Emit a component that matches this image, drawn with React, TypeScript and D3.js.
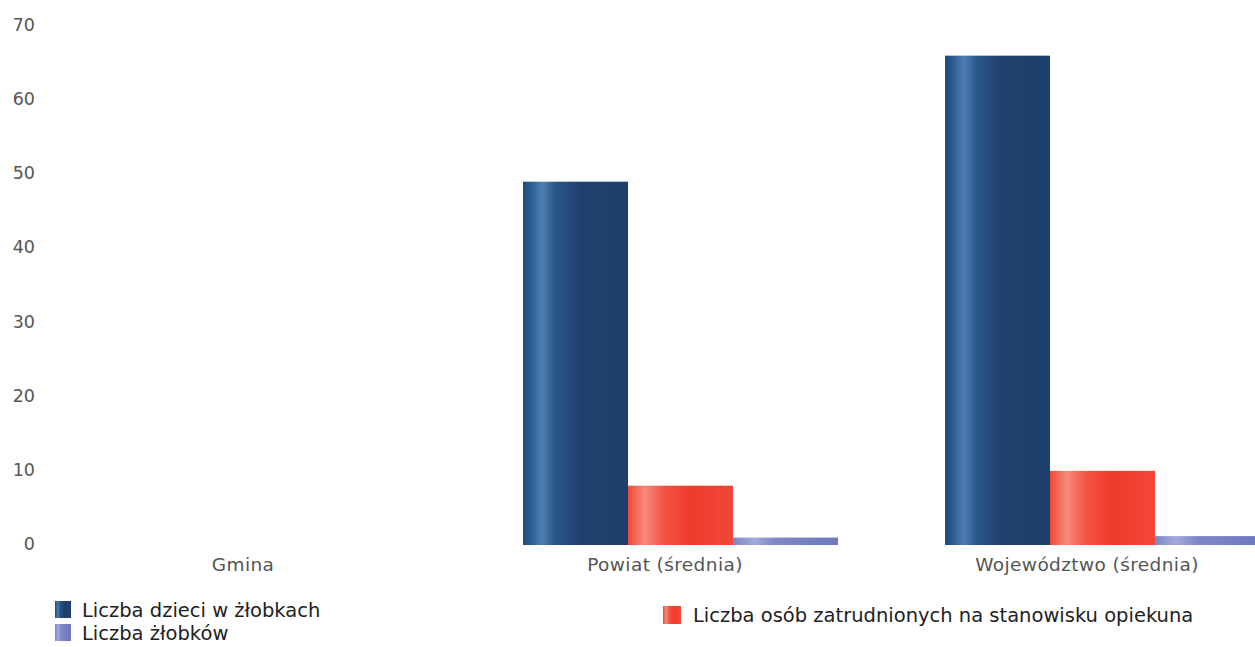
import React from "react";
import * as d3 from "d3";

const categories = ["Gmina", "Powiat (średnia)", "Województwo (średnia)"];
const seriesNames = [
  "Liczba dzieci w żłobkach",
  "Liczba osób zatrudnionych na stanowisku opiekuna",
  "Liczba żłobków",
];
const dzieci = [0, 49, 66];
const opiekunowie = [0, 8, 10];
const zlobki = [0, 1, 1.2];
const yTicks = [0, 10, 20, 30, 40, 50, 60, 70];

const W = 1255;
const H = 647;

export default function App() {
  const x0 = d3.scaleBand<string>().domain(categories).range([32, 1298]).padding(0);
  const y = d3.scaleLinear().domain([0, 70]).range([545, 26]);
  const x1 = d3.scaleBand<number>().domain([0, 1, 2]).range([0, 315]).padding(0);
  const series = [dzieci, opiekunowie, zlobki];
  const fills = ["url(#gBlue)", "url(#gRed)", "url(#gPurple)"];
  const font = "'DejaVu Sans', sans-serif";

  return (
    <svg
      width={W}
      height={H}
      style={{ position: "absolute", left: 0, top: 0, background: "#fff" }}
    >
      <defs>
        <linearGradient id="gBlue" x1="0" x2="1" y1="0" y2="0">
          <stop offset="0" stopColor="#1f4a7c" />
          <stop offset="0.08" stopColor="#2c5e92" />
          <stop offset="0.18" stopColor="#4f7fb0" />
          <stop offset="0.3" stopColor="#2a5789" />
          <stop offset="0.55" stopColor="#1f3f6d" />
          <stop offset="1" stopColor="#1f3f6b" />
        </linearGradient>
        <linearGradient id="gRed" x1="0" x2="1" y1="0" y2="0">
          <stop offset="0" stopColor="#f0493a" />
          <stop offset="0.16" stopColor="#f88a7c" />
          <stop offset="0.34" stopColor="#f35444" />
          <stop offset="0.6" stopColor="#ee3a2a" />
          <stop offset="1" stopColor="#f0483a" />
        </linearGradient>
        <linearGradient id="gPurple" x1="0" x2="1" y1="0" y2="0">
          <stop offset="0" stopColor="#7d86c6" />
          <stop offset="0.2" stopColor="#a3aadb" />
          <stop offset="0.4" stopColor="#7f87c6" />
          <stop offset="1" stopColor="#6e78bd" />
        </linearGradient>
      </defs>

      {yTicks.map((t) => (
        <text
          key={t}
          x={35}
          y={y(t)}
          textAnchor="end"
          dominantBaseline="middle"
          fontFamily={font}
          fontSize={17.5}
          fill="#555"
        >
          {t}
        </text>
      ))}

      {categories.map((c, ci) => {
        const cx = (x0(c) ?? 0) + x0.bandwidth() / 2;
        const gx = cx - 142;
        return (
          <g key={c}>
            {series.map((s, si) =>
              s[ci] > 0 ? (
                <rect
                  key={si}
                  x={gx + (x1(si) ?? 0)}
                  y={y(s[ci])}
                  width={x1.bandwidth()}
                  height={y(0) - y(s[ci])}
                  fill={fills[si]}
                />
              ) : null
            )}
            <text
              x={cx}
              y={566}
              textAnchor="middle"
              dominantBaseline="middle"
              fontFamily={font}
              fontSize={18.5}
              fill="#555"
              letterSpacing={0.4}
            >
              {c}
            </text>
          </g>
        );
      })}

      {/* Legend */}
      <rect x={55} y={601} width={16} height={17} fill="url(#gBlue)" />
      <text x={82} y={611} dominantBaseline="middle" fontFamily={font} fontSize={19.5} fill="#222">
        {seriesNames[0]}
      </text>
      <rect x={55} y={624} width={16} height={17} fill="url(#gPurple)" />
      <text x={82} y={634} dominantBaseline="middle" fontFamily={font} fontSize={19.5} fill="#222">
        {seriesNames[2]}
      </text>
      <rect x={663} y={606} width={18} height={18} fill="url(#gRed)" />
      <text x={693} y={616} dominantBaseline="middle" fontFamily={font} fontSize={19.5} fill="#222">
        {seriesNames[1]}
      </text>
    </svg>
  );
}
